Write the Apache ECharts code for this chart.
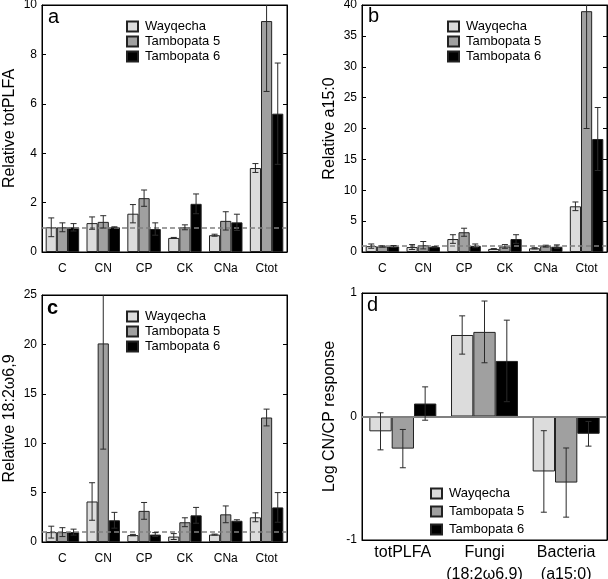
<!DOCTYPE html>
<html><head><meta charset="utf-8">
<script src="https://cdn.jsdelivr.net/npm/echarts@6/dist/echarts.min.js"></script>
<style>html,body{margin:0;padding:0;background:#fff}#c{width:608px;height:579px}</style>
</head><body><div id="c"></div><script>
const seriesNames = ['Wayqecha', 'Tambopata 5', 'Tambopata 6'];
const treatments = ['C', 'CN', 'CP', 'CK', 'CNa', 'Ctot'];
const groupsD = ['totPLFA', 'Fungi\n(18:2ω6,9)', 'Bacteria\n(a15:0)'];

// panel a: relative totPLFA
const aW = [1.0, 1.17, 1.55, 0.57, 0.68, 3.40];
const aWerr = [0.38, 0.25, 0.37, 0.02, 0.04, 0.18];
const aT5 = [1.0, 1.22, 2.18, 1.0, 1.26, 9.35];
const aT5err = [0.18, 0.25, 0.33, 0.1, 0.37, 2.85];
const aT6 = [1.0, 1.0, 0.93, 1.95, 1.2, 5.6];
const aT6err = [0.15, 0.02, 0.25, 0.4, 0.33, 2.05];

// panel b: relative a15:0
const bW = [0.95, 0.8, 2.1, 0.5, 0.6, 7.4];
const bWerr = [0.35, 0.4, 0.7, 0.05, 0.1, 0.7];
const bT5 = [0.9, 1.1, 3.2, 0.9, 0.95, 39.0];
const bT5err = [0.1, 0.6, 0.65, 0.3, 0.15, 19.0];
const bT6 = [0.9, 0.8, 1.0, 2.1, 0.85, 18.3];
const bT6err = [0.15, 0.1, 0.3, 0.7, 0.3, 5.1];

// panel c: relative 18:2ω6,9
const cW = [1.0, 4.1, 0.7, 0.55, 0.75, 2.5];
const cWerr = [0.6, 1.9, 0.07, 0.3, 0.05, 0.45];
const cT5 = [1.0, 20.1, 3.15, 2.0, 2.8, 12.6];
const cT5err = [0.45, 10.7, 0.85, 0.45, 0.85, 0.85];
const cT6 = [1.0, 2.2, 0.75, 2.7, 2.15, 3.5];
const cT6err = [0.3, 0.8, 0.2, 0.8, 0.1, 1.5];

// panel d: log CN/CP response
const dW = [-0.12, 0.66, -0.445];
const dWerr = [0.15, 0.155, 0.33];
const dT5 = [-0.26, 0.685, -0.535];
const dT5err = [0.155, 0.25, 0.28];
const dT6 = [0.105, 0.45, -0.14];
const dT6err = [0.135, 0.33, 0.1];

const yTicksA = {min: 0, max: 10, interval: 2};
const yTicksB = {min: 0, max: 40, interval: 5};
const yTicksC = {min: 0, max: 25, interval: 5};
const yTicksD = {min: -1, max: 1, interval: 1};

const FONT = 'Liberation Sans, Arial, sans-serif';
const fills = ['#dcdcdc', '#a0a0a0', '#000000'];
const GAP = 0.18;

const panels = [
  {grid: {left: 42, top: 5, width: 245, height: 247}, cats: treatments, y: yTicksA, name: 'Relative totPLFA',
   vals: [aW, aT5, aT6], errs: [aWerr, aT5err, aT6err], ref: 1, legend: {left: 126, top: 19, gap: 0}, letter: {t: 'a', x: 48, y: 18}},
  {grid: {left: 362, top: 5, width: 245, height: 247}, cats: treatments, y: yTicksB, name: 'Relative a15:0',
   vals: [bW, bT5, bT6], errs: [bWerr, bT5err, bT6err], ref: 1, legend: {left: 447, top: 19, gap: 0}, letter: {t: 'b', x: 368, y: 17}},
  {grid: {left: 42, top: 295, width: 245, height: 247}, cats: treatments, y: yTicksC, name: 'Relative 18:2ω6,9',
   vals: [cW, cT5, cT6], errs: [cWerr, cT5err, cT6err], ref: 1, legend: {left: 126, top: 309, gap: 0}, letter: {t: 'c', x: 47, y: 309, bold: true}},
  {grid: {left: 362, top: 293, width: 245, height: 247}, cats: groupsD, y: yTicksD, name: 'Log CN/CP response',
   vals: [dW, dT5, dT6], errs: [dWerr, dT5err, dT6err], ref: 0, legend: {left: 430, top: 486, gap: 3}, letter: {t: 'd', x: 367, y: 306}, isD: true}
];

const grids = [], xAxes = [], yAxes = [], series = [], legends = [], graphics = [];

function errRenderer(k, yMin, yMax) {
  return function (params, api) {
    const ci = api.value(0), v = api.value(1), e = api.value(2);
    const band = api.size([1, 0])[0];
    const bw = band * (1 - GAP) / 3;
    const c = api.coord([ci, v]);
    const x = c[0] + (k - 1) * bw;
    const hiV = v + e, loV = v - e;
    const hi = Math.min(hiV, yMax), lo = Math.max(loV, yMin);
    const pHi = api.coord([ci, hi])[1], pLo = api.coord([ci, lo])[1];
    const cap = 3;
    const st = {stroke: '#2a2a2a', lineWidth: 1};
    const children = [{type: 'line', shape: {x1: x, y1: pHi, x2: x, y2: pLo}, style: st}];
    if (hiV <= yMax) children.push({type: 'line', shape: {x1: x - cap, y1: pHi, x2: x + cap, y2: pHi}, style: st});
    if (loV >= yMin) children.push({type: 'line', shape: {x1: x - cap, y1: pLo, x2: x + cap, y2: pLo}, style: st});
    return {type: 'group', children: children};
  };
}

panels.forEach((p, i) => {
  grids.push(Object.assign({show: true, borderColor: '#000', borderWidth: 1, backgroundColor: 'transparent',
    containLabel: false, outerBoundsMode: 'none'}, p.grid));
  const fs = p.isD ? 16 : 12;
  xAxes.push({
    type: 'category', gridIndex: i, data: p.cats, position: 'bottom',
    axisLine: {onZero: false, lineStyle: {color: '#000', width: 1}},
    axisTick: {inside: true, length: 4, alignWithLabel: false, lineStyle: {color: '#000'}},
    axisLabel: {color: '#000', fontFamily: FONT, fontSize: fs, margin: p.isD ? 2 : 6, lineHeight: 22, interval: 0}
  });
  xAxes.push({
    type: 'category', gridIndex: i, data: p.cats, position: 'top',
    axisLine: {onZero: false, lineStyle: {color: '#000'}},
    axisTick: {inside: true, length: 4, lineStyle: {color: '#000'}},
    axisLabel: {show: false}
  });
  yAxes.push({
    type: 'value', gridIndex: i, min: p.y.min, max: p.y.max, interval: p.y.interval, position: 'left',
    name: p.name, nameLocation: 'middle', nameGap: 24, nameRotate: 90,
    nameTextStyle: {fontFamily: FONT, fontSize: 16, color: '#000'},
    splitLine: {show: false},
    axisLine: {show: true, lineStyle: {color: '#000'}},
    axisTick: {show: true, inside: true, length: 4, lineStyle: {color: '#000'}},
    axisLabel: {color: '#000', fontFamily: FONT, fontSize: 12, margin: 5}
  });
  yAxes.push({
    type: 'value', gridIndex: i, min: p.y.min, max: p.y.max, interval: p.y.interval, position: 'right',
    splitLine: {show: false},
    axisLine: {show: true, lineStyle: {color: '#000'}},
    axisTick: {show: true, inside: true, length: 4, lineStyle: {color: '#000'}},
    axisLabel: {show: false}
  });
  p.vals.forEach((vals, k) => {
    const s = {
      type: 'bar', name: seriesNames[k], xAxisIndex: 2 * i, yAxisIndex: 2 * i,
      data: vals, barGap: '0%', barCategoryGap: (GAP * 100) + '%',
      itemStyle: {color: fills[k], borderColor: '#222', borderWidth: 1},
      emphasis: {disabled: true}, animation: false, z: 2
    };
    if (k === 0) {
      s.markLine = {
        silent: true, symbol: 'none', label: {show: false}, animation: false,
        lineStyle: p.isD ? {type: 'solid', color: '#808080', width: 2} : {type: [5, 3], color: '#808080', width: 1.5},
        data: [{yAxis: p.ref}]
      };
    }
    series.push(s);
  });
  p.vals.forEach((vals, k) => {
    series.push({
      type: 'custom', name: 'err' + i + k, xAxisIndex: 2 * i, yAxisIndex: 2 * i,
      renderItem: errRenderer(k, p.y.min, p.y.max),
      data: vals.map((v, j) => [j, v, p.errs[k][j]]),
      z: 5, silent: true, animation: false
    });
  });
  legends.push({
    data: seriesNames, left: p.legend.left, top: p.legend.top, orient: 'vertical',
    icon: 'rect', itemWidth: 11, itemHeight: 10, itemGap: p.legend.gap, padding: 0,
    selectedMode: false,
    textStyle: {fontFamily: FONT, fontSize: 13, lineHeight: 15, height: 15, color: '#000', padding: [0, 0, 0, 2]}
  });
  graphics.push({
    type: 'text', left: p.letter.x, top: p.letter.y - 11,
    style: {text: p.letter.t, fontFamily: FONT, fontSize: 20, fontWeight: p.letter.bold ? 'bold' : 'normal', fill: '#000'}
  });
});

const chart = echarts.init(document.getElementById('c'), null, {renderer: 'canvas'});
chart.setOption({
  animation: false,
  backgroundColor: '#fff',
  grid: grids, xAxis: xAxes, yAxis: yAxes, series: series, legend: legends, graphic: graphics
});
</script></body></html>
